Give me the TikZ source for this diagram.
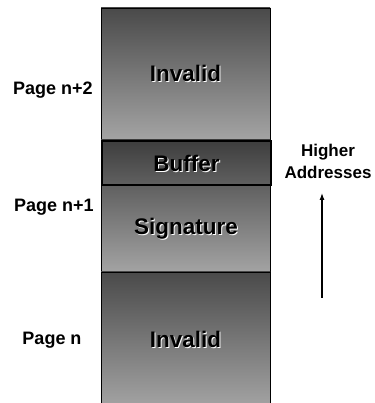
\documentclass[tikz,border=0pt]{standalone}
\usepackage{fontspec}
\setmainfont{Liberation Sans}
\usetikzlibrary{arrows.meta,calc}

\tikzset{
  page/.style={draw=black, line width=0.8pt, top color=black!71, bottom color=black!36,
    minimum width=169, inner sep=0pt, outer sep=0pt, anchor=north west},
  cell/.style={font=\fontsize{22.5}{24}\selectfont\bfseries},
  side/.style={font=\fontsize{18}{22}\selectfont\bfseries, align=center}
}

% testo con ombra bianca
\newcommand{\celltext}[3]{%
  \node[cell, white] at ([shift={(1pt,-1pt)}]#2) {#3};
  \node[cell] (#1) at (#2) {#3};}

\begin{document}
\begin{tikzpicture}[x = 1pt, y = 1pt]
    \useasboundingbox (0,0) rectangle (374,403);

    % Pagine
    \node[page, minimum height=131] (pagetop) at (101,395) {};
    \node[page, top color=black!76, minimum height=132] (pagemid) at (101,263) {};
    \node[page, minimum height=135] (pagebot) at (101,131) {};

    % Buffer
    \node[draw=black, line width=2pt, minimum width=169, minimum height=44,
      inner sep=0pt, anchor=north west] (buffer) at (101,263) {};
    \coordinate (sigc) at ($(buffer.south)!0.5!(pagemid.south)$);

    % Testi nelle pagine
    \celltext{invtop}{pagetop.center}{Invalid}
    \celltext{buf}{buffer.center}{Buffer}
    \celltext{sig}{sigc}{Signature}
    \celltext{invbot}{pagebot.center}{Invalid}

    % Etichette a sinistra
    \node[side] (pn2) at (53,313) {Page n+2};
    \node[side] (pn1) at (54,196) {Page n+1};
    \node[side] (pn0) at (52,63) {Page n};

    % Freccia
    \node[side, font=\fontsize{17}{22}\selectfont\bfseries] (higher) at (328,242) {Higher\\Addresses};
    \coordinate (lowaddr) at (322,105);
    \coordinate (highaddr) at (322,210);
    \draw[-{Latex[length=7pt,width=5pt]}, line width=1.2pt] (lowaddr) -- (highaddr);

\end{tikzpicture}
\end{document}
